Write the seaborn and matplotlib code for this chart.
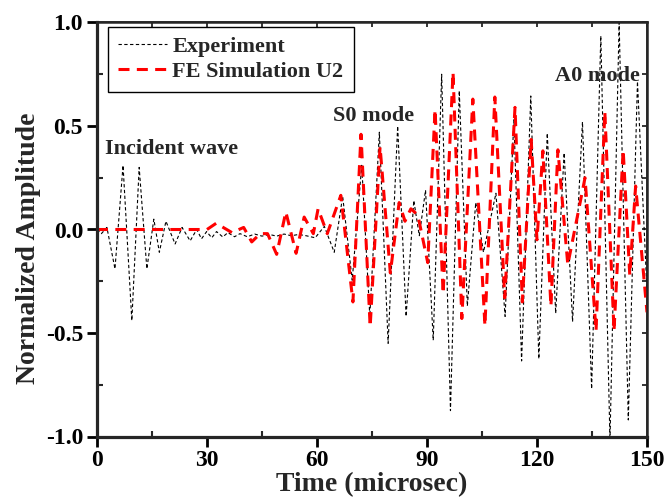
import numpy as np
import pandas as pd
import matplotlib
matplotlib.use("Agg")
import matplotlib.pyplot as plt
from matplotlib.ticker import MultipleLocator, FormatStrFormatter
import seaborn as sns

# ---- Data (extrema of the waveforms) ----
exp_t = [0.0, 1.2, 2.7, 4.9, 7.1, 9.5, 11.5, 13.6, 15.5, 17.0, 18.8, 21.3, 23.2, 25.4,
         27.2, 28.5, 29.9, 31.3, 32.6, 34.3, 35.7, 37.5, 39.0, 41.0, 43.0, 45.0, 47.0,
         49.0, 51.0, 53.0, 55.0, 57.0, 59.5, 62.0, 64.7, 67.0, 69.6, 72.2, 74.4, 77.0,
         79.4, 82.0, 84.3, 86.4, 87.9, 89.6, 91.7, 94.0, 96.4, 98.8, 101.0, 103.3,
         105.4, 108.8, 111.3, 113.7, 115.8, 118.3, 120.5, 122.8, 125.1, 127.4, 129.7,
         132.4, 134.9, 137.4, 139.9, 142.4, 144.9, 147.4, 150.0]
exp_y = [0.0, -0.02, 0.01, -0.19, 0.31, -0.44, 0.30, -0.19, 0.05, -0.11, 0.04, -0.07, 0.01,
         -0.055, 0.0, -0.045, -0.01, -0.04, -0.01, -0.036, -0.015, -0.035, -0.02, -0.035,
         -0.022, -0.032, -0.024, -0.032, -0.022, -0.03, -0.024, -0.03, -0.04, 0.015, -0.11,
         0.16, -0.245, 0.31, -0.42, 0.47, -0.55, 0.50, -0.42, 0.14, -0.03, 0.19, -0.535,
         0.75, -0.875, 0.67, -0.37, 0.13, -0.11, 0.175, -0.42, 0.53, -0.635, 0.645, -0.625,
         0.465, -0.405, 0.37, -0.445, 0.52, -0.77, 0.935, -1.02, 1.0, -0.92, 0.715, -0.30]

fe_t = [0.0, 30.0, 32.5, 36.8, 40.0, 42.2, 44.5, 46.5, 49.0, 51.5, 54.3, 56.5, 59.0, 60.3,
        62.8, 66.5, 69.8, 72.0, 74.5, 77.2, 80.0, 82.4, 84.0, 85.6, 87.5, 90.2, 92.2, 94.4,
        97.1, 99.5, 102.5, 105.8, 108.5, 111.2, 114.0, 116.0, 118.4, 120.0, 121.6, 123.8,
        125.7, 128.4, 133.1, 136.1, 138.5, 141.0, 143.5, 145.3, 146.9, 150.0]
fe_y = [0.0, 0.0, 0.03, -0.015, 0.01, -0.06, -0.02, -0.02, -0.12, 0.085, -0.115, 0.06,
        -0.02, 0.10, -0.02, 0.165, -0.35, 0.46, -0.47, 0.40, -0.21, 0.13, 0.04, 0.10, 0.07,
        -0.16, 0.58, -0.31, 0.76, -0.43, 0.63, -0.465, 0.64, -0.33, 0.59, -0.35, 0.435,
        -0.05, 0.38, -0.37, 0.385, -0.17, 0.25, -0.49, 0.57, -0.49, 0.385, -0.22, 0.21, -0.40]

series_labels = ["Experiment", "FE Simulation U2"]
x_ticks = [0, 30, 60, 90, 120, 150]
y_ticks = [-1.0, -0.5, 0.0, 0.5, 1.0]
annotations = [("Incident wave", 2.2, 0.366), ("S0 mode", 64.3, 0.522), ("A0 mode", 124.9, 0.716)]

# ---- Style ----
sns.set_theme(style="ticks")
plt.rcParams["font.family"] = ["Liberation Serif", "DejaVu Serif"]
plt.rcParams["font.weight"] = "bold"
plt.rcParams["axes.labelweight"] = "bold"

fig = plt.figure(figsize=(6.68, 4.98), dpi=100)
ax = fig.add_axes([97 / 668, 61.5 / 498, 550 / 668, 414 / 498])

df_exp = pd.DataFrame({"t": exp_t, "y": exp_y})
df_fe = pd.DataFrame({"t": fe_t, "y": fe_y})

sns.lineplot(data=df_exp, x="t", y="y", ax=ax, color="black", linewidth=0.8,
             linestyle=(0, (3, 2.2)), label=series_labels[0], estimator=None, sort=False)
sns.lineplot(data=df_fe, x="t", y="y", ax=ax, color="#ff0000", linewidth=2.2,
             linestyle=(0, (3.6, 2.4)), label=series_labels[1], estimator=None, sort=False)

ax.set_xlim(0, 150)
ax.set_ylim(-1.0, 1.0)
ax.set_xticks(x_ticks)
ax.set_yticks(y_ticks)
ax.xaxis.set_minor_locator(MultipleLocator(15))
ax.yaxis.set_minor_locator(MultipleLocator(0.25))
ax.yaxis.set_major_formatter(FormatStrFormatter("%.1f"))

ax.tick_params(which="major", direction="out", length=7, width=2, labelsize=17, pad=3,
               colors="black")
ax.tick_params(which="minor", direction="in", length=4, width=1.5)
for lab in ax.get_xticklabels() + ax.get_yticklabels():
    lab.set_fontweight("bold")

for side in ["left", "bottom"]:
    ax.spines[side].set_linewidth(2.3)
for side in ["top", "right"]:
    ax.spines[side].set_linewidth(1.8)
    ax.spines[side].set_visible(True)

# inward ticks on top and right
sec_x = ax.secondary_xaxis("top")
sec_x.set_xticks(np.arange(0, 151, 15))
sec_x.tick_params(direction="in", length=3.5, width=1.3, labeltop=False)
sec_y = ax.secondary_yaxis("right")
sec_y.set_yticks(np.arange(-1.0, 1.01, 0.25))
sec_y.tick_params(direction="in", length=3.5, width=1.3, labelright=False)

ax.set_xlabel("Time (microsec)", fontsize=20, fontweight="bold")
ax.set_ylabel("Normalized Amplitude", fontsize=20, fontweight="bold")
ax.xaxis.label.set_va("baseline")
ax.xaxis.set_label_coords(0.5, -0.133)
ax.yaxis.set_label_coords(-0.101, 0.454)

for txt, tx, ty in annotations:
    ax.text(tx, ty, txt, fontsize=16, fontweight="bold", va="baseline", ha="left")

leg = ax.legend(loc="upper left", bbox_to_anchor=(0.02, 0.99), borderaxespad=0,
                frameon=True, fancybox=False, edgecolor="black", framealpha=1,
                prop={"size": 16, "weight": "bold"}, handlelength=2.2,
                handletextpad=0.25, borderpad=0.45, labelspacing=0.2)
leg.get_frame().set_linewidth(1.0)

fig.savefig("out.png", dpi=100)
